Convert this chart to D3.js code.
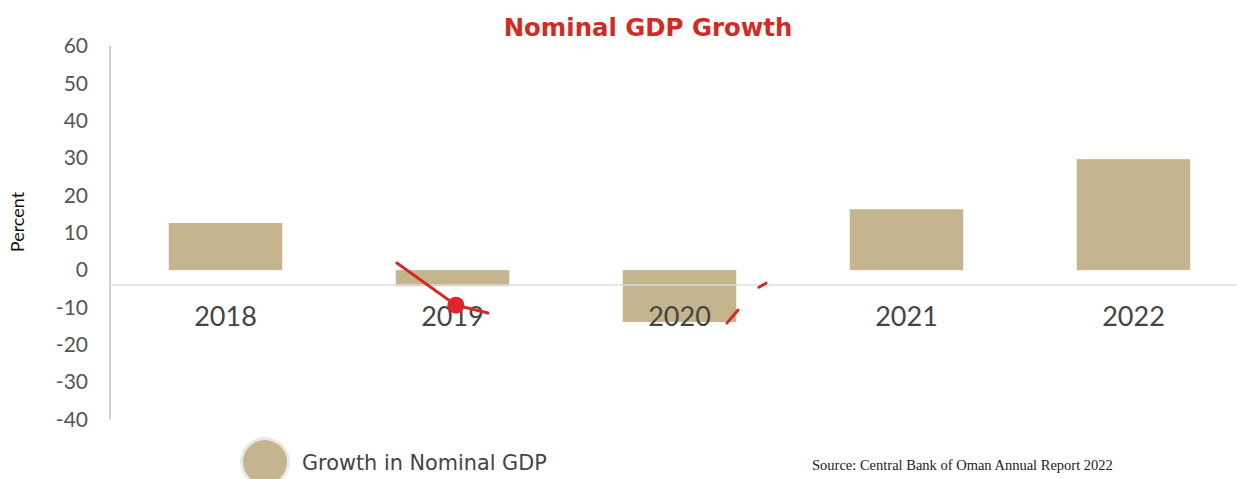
<!DOCTYPE html>
<html>
<head>
<meta charset="utf-8">
<script src="https://cdn.jsdelivr.net/npm/d3@7"></script>
<style>
  html, body { margin: 0; padding: 0; background: #fff; }
  svg { display: block; }
</style>
</head>
<body>
<svg id="chart" width="1237" height="479"></svg>
<script>
// Nominal GDP growth, percent
const years = ["2018", "2019", "2020", "2021", "2022"];
const growth = [12.6, -4.3, -13.9, 16.3, 29.7];
const yTicks = [60, 50, 40, 30, 20, 10, 0, -10, -20, -30, -40];

// Red trace: x as position in category steps (0 = first year), y in percent
const traceSegments = [
  [[0.755, 1.9], [1.015, -9.4], [1.156, -11.5]],
  [[2.209, -14.2], [2.258, -10.7]],
  [[2.350, -4.6], [2.381, -3.5]]
];
const traceDots = [[1.015, -9.4]];

// Value where the category axis line crosses
const categoryAxisAt = -4;

const svg = d3.select("#chart");
const barColor = "#c5b58f";
const red = "#d32a24";

const x = d3.scaleBand().domain(years).range([112, 1247])
  .paddingInner(0.5).paddingOuter(0.25);
const y = d3.scaleLinear().domain([-40, 60]).range([419.5, 46]);
const xStep = d3.scaleLinear().domain([0, years.length - 1])
  .range([x(years[0]) + x.bandwidth() / 2, x(years[years.length - 1]) + x.bandwidth() / 2]);

// Title
svg.append("text")
  .attr("x", 648).attr("y", 36)
  .attr("text-anchor", "middle")
  .attr("font-family", "'DejaVu Sans', sans-serif")
  .attr("font-weight", "bold")
  .attr("font-size", 24.4)
  .attr("fill", red)
  .text("Nominal GDP Growth");

// Y axis
const yAxis = d3.axisLeft(y).tickValues(yTicks).tickSize(0).tickPadding(22)
  .tickFormat(d => String(d));
const gy = svg.append("g").attr("transform", "translate(110,0)").call(yAxis);
gy.select(".domain").attr("stroke", "#cfcfcf").attr("stroke-width", 2)
  .attr("d", `M0,${y(60)}V${y(-40)}`);
gy.selectAll("text")
  .attr("font-family", "Lato, 'Noto Sans', sans-serif")
  .attr("font-size", 21)
  .attr("fill", "#555");

svg.append("text")
  .attr("transform", "translate(24,222) rotate(-90)")
  .attr("text-anchor", "middle")
  .attr("font-family", "Lato, 'Noto Sans', sans-serif")
  .attr("font-size", 18)
  .attr("fill", "#111")
  .text("Percent");

// Bars
svg.append("g").selectAll("rect")
  .data(years.map((yr, i) => ({ yr, v: growth[i] })))
  .join("rect")
  .attr("x", d => x(d.yr))
  .attr("width", x.bandwidth())
  .attr("y", d => y(Math.max(0, d.v)))
  .attr("height", d => Math.abs(y(d.v) - y(0)))
  .attr("fill", barColor);

// Category axis
const xAxis = d3.axisBottom(x).tickSize(0).tickPadding(22);
const gx = svg.append("g").attr("transform", `translate(0,${y(categoryAxisAt)})`).call(xAxis);
gx.select(".domain").attr("stroke", "#dedede").attr("stroke-width", 1.5)
  .attr("d", "M110,0H1237");
gx.selectAll("text")
  .attr("font-family", "Lato, 'Noto Sans', sans-serif")
  .attr("font-size", 27)
  .attr("fill", "#444");

// Red trace
const line = d3.line().x(d => xStep(d[0])).y(d => y(d[1]));
svg.append("g").selectAll("path")
  .data(traceSegments)
  .join("path")
  .attr("d", line)
  .attr("fill", "none")
  .attr("stroke", red)
  .attr("stroke-width", 3)
  .attr("stroke-linecap", "round");
svg.append("g").selectAll("circle")
  .data(traceDots)
  .join("circle")
  .attr("cx", d => xStep(d[0]))
  .attr("cy", d => y(d[1]))
  .attr("r", 8.5)
  .attr("fill", "#e0262a");

// Legend
const lg = svg.append("g").attr("transform", "translate(265,462)");
lg.append("circle").attr("r", 25).attr("fill", "#e9e9e9");
lg.append("circle").attr("r", 22).attr("fill", barColor);
lg.append("text")
  .attr("x", 37).attr("y", 8)
  .attr("font-family", "'DejaVu Sans', sans-serif")
  .attr("font-size", 20.8)
  .attr("fill", "#444")
  .text("Growth in Nominal GDP");

// Source note
svg.append("text")
  .attr("x", 812).attr("y", 470)
  .attr("font-family", "'Liberation Serif', 'Times New Roman', serif")
  .attr("font-size", 14.5)
  .attr("fill", "#222")
  .text("Source: Central Bank of Oman Annual Report 2022");
</script>
</body>
</html>
